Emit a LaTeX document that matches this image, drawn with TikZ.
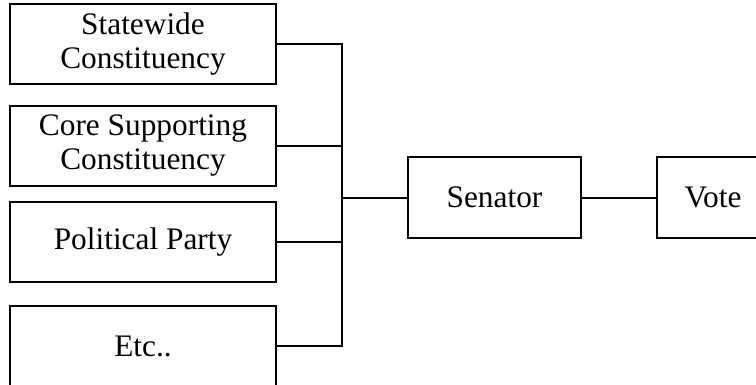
\documentclass[tikz,border=0pt]{standalone}
\usepackage{fontspec}
\setmainfont{Liberation Serif}
\begin{document}
\begin{tikzpicture}[x=0.75pt,y=-0.75pt,
  box/.style={draw, line width=1.5pt, rectangle, align=center, inner sep=0pt,
    font=\fontsize{23.5}{25.5}\selectfont},
  leftbox/.style={box, minimum width=0.75*266pt, minimum height=0.75*80pt},
  rightbox/.style={box, minimum height=0.75*81pt},
  conn/.style={line width=1.5pt}]
\useasboundingbox (0,0) rectangle (756,385);
\clip (0,0) rectangle (756,385);
\node[leftbox] (stw) at (143,44) {Statewide\\Constituency};
\node[leftbox] (core) at (143,146) {Core Supporting\\Constituency};
\node[leftbox] (pol) at (143,242) {Political Party};
\node[leftbox] (etc) at (143,346) {Etc..};
\node[rightbox, minimum width=0.75*173pt] (sen) at (494.5,197.5) {Senator};
\node[rightbox, minimum width=0.75*112pt] (vote) at (713,197.5) {Vote};
\coordinate (bus) at (342,197.5);
\draw[conn] (stw.east) -| (bus);
\draw[conn] (core.east) -| (bus);
\draw[conn] (pol.east) -| (bus);
\draw[conn] (etc.east) -| (bus);
\draw[conn] (bus) -- (sen.west);
\draw[conn] (sen.east) -- (vote.west);
\end{tikzpicture}
\end{document}
